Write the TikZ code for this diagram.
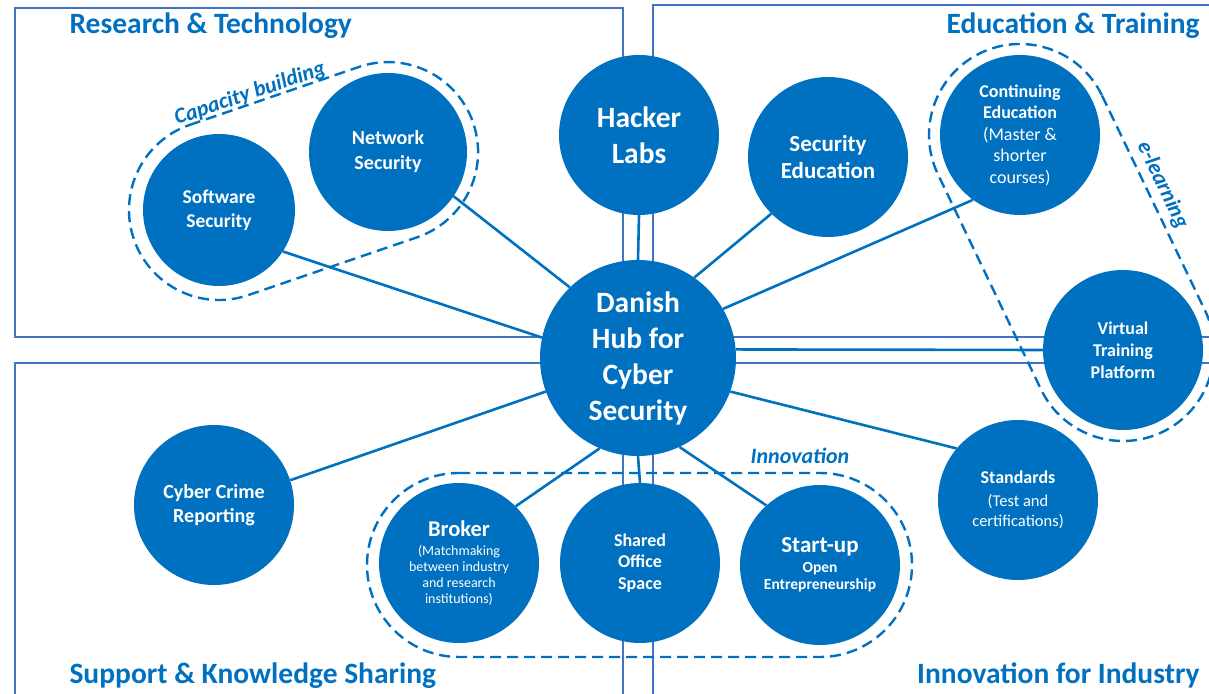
\documentclass[tikz,border=0pt]{standalone}
\usepackage{fontspec}
\setmainfont{Carlito}
\usepackage{tikz}

\definecolor{hubblue}{HTML}{0070C0}
\definecolor{frameblue}{HTML}{4472C4}

\begin{document}
\begin{tikzpicture}[x=1pt, y=1pt,
    bub/.style={circle, fill=hubblue, text=white, align=center, inner sep=0pt, minimum size=160pt},
    link/.style={hubblue, line width=2.6pt},
    frame/.style={frameblue, line width=1.4pt},
    grp/.style={hubblue, line width=2.4pt, dash pattern=on 11pt off 6pt},
    grplbl/.style={hubblue, font=\fontsize{22}{24}\selectfont\bfseries\itshape},
    ttl/.style={hubblue, font=\fontsize{29.5}{34}\selectfont\bfseries}]

    \useasboundingbox (0,0) rectangle (1209,693);
    \clip (0,0) rectangle (1209,693);

    % The four quarters
    \draw[frame] (15,685) rectangle (623,356);
    \draw[frame] (653,688) rectangle (1230,356);
    \draw[frame] (15,330) rectangle (623,-20);
    \draw[frame] (653,330) rectangle (1230,-20);

    \node[ttl, anchor=base west] (rt) at (66,659) {Research \& Technology};
    \node[ttl, anchor=base east] (et) at (1203,659) {Education \& Training};
    \node[ttl, anchor=base west] (sk) at (66,10) {Support \& Knowledge Sharing};
    \node[ttl, anchor=base east] (ii) at (1203,10) {Innovation for Industry};

    % The hub and its satellites
    \node[bub, minimum size=196pt, font=\fontsize{29.5}{36}\selectfont\bfseries] (hub) at (638,335)
        {Danish\\Hub for\\Cyber\\Security};
    \node[bub, font=\fontsize{29.5}{36}\selectfont\bfseries] (hack) at (639,558) {Hacker\\Labs};
    \node[bub, font=\fontsize{23}{27.5}\selectfont\bfseries] (sec) at (828,536) {Security\\Education};
    \node[bub, font=\fontsize{18}{21.5}\selectfont\bfseries] (cont) at (1020,558)
        {Continuing\\Education\\{\mdseries (Master \&}\\{\mdseries shorter}\\{\mdseries courses)}};
    \node[bub, font=\fontsize{18}{22}\selectfont\bfseries] (virt) at (1123,343) {Virtual\\Training\\Platform};
    \node[bub, font=\fontsize{16.5}{20.5}\selectfont] (std) at (1018,193)
        {{\fontsize{18}{20}\selectfont\bfseries Standards}\\[2pt]{(Test and}\\{certifications)}};
    \node[bub, font=\fontsize{15.5}{17}\selectfont\bfseries] (su) at (820,128)
        {{\fontsize{23}{23}\selectfont Start-up}\\[3pt]Open\\Entrepreneurship};
    \node[bub, font=\fontsize{18}{21.5}\selectfont\bfseries] (shared) at (640,130) {Shared\\Office\\Space};
    \node[bub, font=\fontsize{14}{16}\selectfont] (brk) at (459,130)
        {{\fontsize{22.5}{22}\selectfont\bfseries Broker}\\[3pt](Matchmaking\\between industry\\and research\\institutions)};
    \node[bub, font=\fontsize{20}{23.5}\selectfont\bfseries] (cc) at (214,188) {Cyber Crime\\Reporting};
    \node[bub, minimum size=152pt, font=\fontsize{19.5}{24}\selectfont\bfseries] (soft) at (219,483) {Software\\Security};
    \node[bub, minimum size=158pt, font=\fontsize{20}{25}\selectfont\bfseries] (net) at (388,541) {Network\\Security};

    \draw[link] (hub.168) -- (soft.-33);
    \draw[link] (hub.134) -- (net.-34);
    \draw[link] (hub.north) -- (hack.south);
    \draw[link] (hub.55) -- (sec.225);
    \draw[link] (hub.30) -- (cont.234);
    \draw[link] (hub.5) -- (virt.180);
    \draw[link] (hub.-20) -- (std.140);
    \draw[link] (hub.-65) -- (su.132);
    \draw[link] (hub.south) -- (shared.north);
    \draw[link] (hub.247) -- (brk.45);
    \draw[link] (hub.200) -- (cc.18);

    % Dashed groups
    \begin{scope}[shift={(soft)}, rotate=18.9]
        \draw[grp] (0,90) -- (178.7,90) arc[start angle=90, end angle=-90, radius=90pt]
            -- (0,-90) arc[start angle=270, end angle=90, radius=90pt] -- cycle;
        \node[grplbl, anchor=base, rotate=18.9] (cap) at (67,94) {Capacity building};
    \end{scope}

    \begin{scope}[shift={(cont)}, rotate=-64.4]
        \draw[grp] (0,91) -- (238.4,91) arc[start angle=90, end angle=-90, radius=91pt]
            -- (0,-91) arc[start angle=270, end angle=90, radius=91pt] -- cycle;
        \node[grplbl, anchor=base, rotate=-64.4] (elearn) at (107,101) {e-learning};
    \end{scope}

    \draw[grp] (459,220) -- (820,220) arc[start angle=90, end angle=-90, radius=92pt]
        -- (459,36) arc[start angle=270, end angle=90, radius=92pt] -- cycle;
    \node[grplbl, anchor=base] (innov) at (800,229) {Innovation};
\end{tikzpicture}
\end{document}
